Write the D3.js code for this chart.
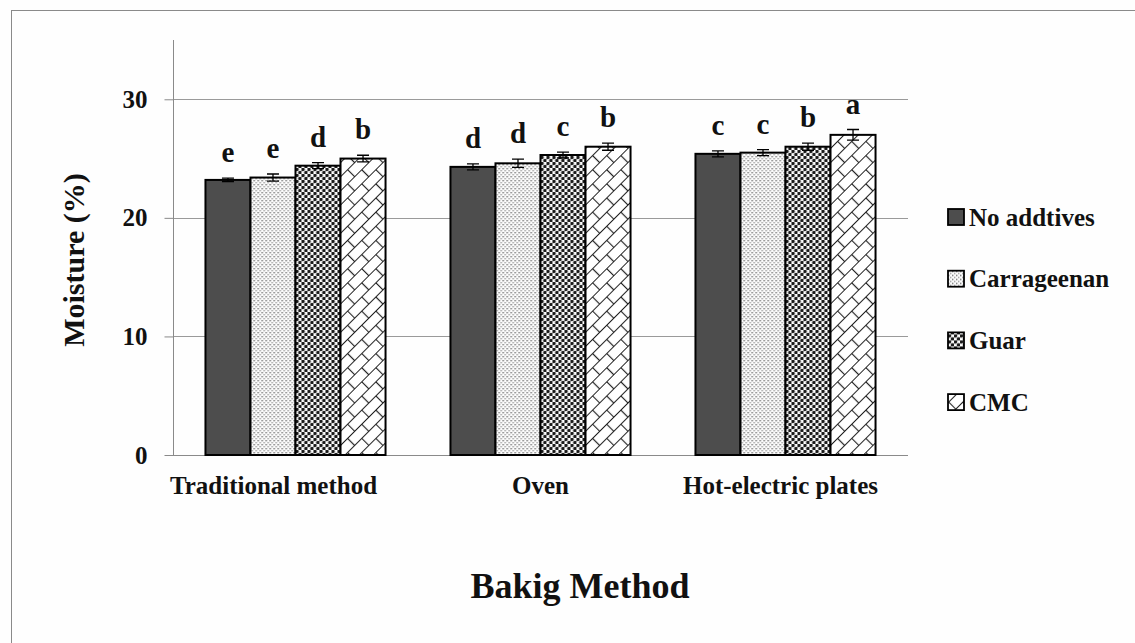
<!DOCTYPE html>
<html>
<head>
<meta charset="utf-8">
<script src="https://cdn.jsdelivr.net/npm/d3@7"></script>
<style>
  html, body { margin: 0; padding: 0; background: #fefefe; }
  svg { display: block; }
  text { font-family: "Liberation Serif", "Times New Roman", serif; font-weight: bold; fill: #111; }
</style>
</head>
<body>
<script>
// ---- data ----
const categories = ["Traditional method", "Oven", "Hot-electric plates"];
const seriesNames = ["No addtives", "Carrageenan", "Guar", "CMC"];
const noAdditives = [23.2, 24.3, 25.4];
const carrageenan = [23.4, 24.6, 25.5];
const guar        = [24.4, 25.3, 26.0];
const cmc         = [25.0, 26.0, 27.0];
const noAdditivesErr = [0.15, 0.25, 0.25];
const carrageenanErr = [0.3, 0.35, 0.25];
const guarErr        = [0.25, 0.25, 0.3];
const cmcErr         = [0.28, 0.3, 0.45];
const noAdditivesLetters = ["e", "d", "c"];
const carrageenanLetters = ["e", "d", "c"];
const guarLetters        = ["d", "c", "b"];
const cmcLetters         = ["b", "b", "a"];
const yTicks = [0, 10, 20, 30];
const yLabel = "Moisture (%)";
const xLabel = "Bakig Method";

const values = [noAdditives, carrageenan, guar, cmc];
const errs = [noAdditivesErr, carrageenanErr, guarErr, cmcErr];
const letters = [noAdditivesLetters, carrageenanLetters, guarLetters, cmcLetters];

const W = 1135, H = 643;
const svg = d3.select("body").append("svg").attr("width", W).attr("height", H);

// ---- patterns ----
const defs = svg.append("defs");
// carrageenan: fine light dots
const p1 = defs.append("pattern").attr("id", "pCarr").attr("patternUnits", "userSpaceOnUse")
  .attr("width", 4).attr("height", 4);
p1.append("rect").attr("width", 4).attr("height", 4).attr("fill", "#fcfcfc");
p1.append("rect").attr("x", 0).attr("y", 0).attr("width", 1.4).attr("height", 1.4).attr("fill", "#707070");
p1.append("rect").attr("x", 2).attr("y", 2).attr("width", 1.4).attr("height", 1.4).attr("fill", "#9a9a9a");
// guar: dark dotted checker
const p2 = defs.append("pattern").attr("id", "pGuar").attr("patternUnits", "userSpaceOnUse")
  .attr("width", 6).attr("height", 6);
p2.append("rect").attr("width", 6).attr("height", 6).attr("fill", "#ffffff");
p2.append("circle").attr("cx", 1.5).attr("cy", 1.5).attr("r", 1.8).attr("fill", "#1a1a1a");
p2.append("circle").attr("cx", 4.5).attr("cy", 4.5).attr("r", 1.8).attr("fill", "#1a1a1a");
// cmc: diagonal brick
const p3 = defs.append("pattern").attr("id", "pCmc").attr("patternUnits", "userSpaceOnUse")
  .attr("width", 20).attr("height", 20).attr("patternTransform", "rotate(-45)");
p3.append("rect").attr("width", 20).attr("height", 20).attr("fill", "#ffffff");
p3.append("path").attr("d", "M0,0.5H20M0,10.5H20M0.5,0V10.5M10.5,10.5V20")
  .attr("stroke", "#222").attr("stroke-width", 1.2).attr("fill", "none");
const fills = ["#4d4d4d", "url(#pCarr)", "url(#pGuar)", "url(#pCmc)"];

// ---- outer frame ----
svg.append("rect").attr("x", 11.5).attr("y", 10.5).attr("width", W).attr("height", H)
  .attr("fill", "none").attr("stroke", "#8a8a8a").attr("stroke-width", 1);

// ---- scales ----
const x0 = d3.scaleBand().domain(categories).range([173, 908]).paddingInner(0.265).paddingOuter(0.1325);
const x1 = d3.scaleBand().domain(d3.range(seriesNames.length)).range([0, x0.bandwidth()]);
const y = d3.scaleLinear().domain([0, 35]).range([455, 40]);

// gridlines
svg.append("g").selectAll("line").data(yTicks.filter(d => d > 0)).join("line")
  .attr("x1", 173).attr("x2", 908)
  .attr("y1", d => Math.round(y(d)) + 0.5).attr("y2", d => Math.round(y(d)) + 0.5)
  .attr("stroke", "#9a9a9a").attr("stroke-width", 1);

// y axis
const yAxis = svg.append("g").attr("transform", "translate(173.5,0)")
  .call(d3.axisLeft(y).tickValues(yTicks).tickSize(9).tickPadding(17).tickFormat(d3.format("d")));
yAxis.attr("font-family", null);
yAxis.select(".domain").attr("stroke", "#8a8a8a").attr("d", `M0,${y(35)}V${y(0)}`);
yAxis.selectAll(".tick line").attr("stroke", "#8a8a8a");
yAxis.selectAll(".tick text").attr("font-size", 25).attr("fill", "#111");

// x axis line
svg.append("line").attr("x1", 173).attr("x2", 908).attr("y1", y(0) + 0.5).attr("y2", y(0) + 0.5)
  .attr("stroke", "#8a8a8a");

// bars
const groups = svg.append("g").selectAll("g").data(categories).join("g")
  .attr("transform", d => `translate(${x0(d)},0)`);
groups.each(function(cat, ci) {
  const g = d3.select(this);
  seriesNames.forEach((s, si) => {
    const v = values[si][ci];
    g.append("rect")
      .attr("x", x1(si)).attr("y", y(v))
      .attr("width", x1.bandwidth()).attr("height", y(0) - y(v))
      .attr("fill", fills[si]).attr("stroke", "#000").attr("stroke-width", 2);
    const e = errs[si][ci];
    const cx = x1(si) + x1.bandwidth() / 2;
    g.append("path")
      .attr("d", `M${cx - 6},${y(v + e)}H${cx + 6}M${cx},${y(v + e)}V${y(v - e)}M${cx - 6},${y(v - e)}H${cx + 6}`)
      .attr("stroke", "#000").attr("stroke-width", 1.3).attr("fill", "none");
    g.append("text").attr("x", cx).attr("y", y(v + e) - 16)
      .attr("text-anchor", "middle").attr("font-size", 29).text(letters[si][ci]);
  });
});

// category labels
const labelShift = [-22, 0, -5];
svg.append("g").selectAll("text").data(categories).join("text")
  .attr("x", (d, i) => x0(d) + x0.bandwidth() / 2 + labelShift[i])
  .attr("y", 494).attr("text-anchor", "middle").attr("font-size", 25).text(d => d);

// axis titles
svg.append("text").attr("transform", "translate(84,260) rotate(-90)")
  .attr("text-anchor", "middle").attr("font-size", 30).text(yLabel);
svg.append("text").attr("x", 580).attr("y", 598).attr("text-anchor", "middle")
  .attr("font-size", 36).text(xLabel);

// legend
const legend = svg.append("g").selectAll("g").data(seriesNames).join("g")
  .attr("transform", (d, i) => `translate(948,${217 + i * 61.7})`);
legend.append("rect").attr("x", 0).attr("y", -8).attr("width", 16).attr("height", 16)
  .attr("fill", (d, i) => fills[i]).attr("stroke", "#000").attr("stroke-width", 1.8);
legend.append("text").attr("x", 21).attr("y", 0).attr("dy", "0.35em")
  .attr("font-size", 25).text(d => d);
</script>
</body>
</html>
